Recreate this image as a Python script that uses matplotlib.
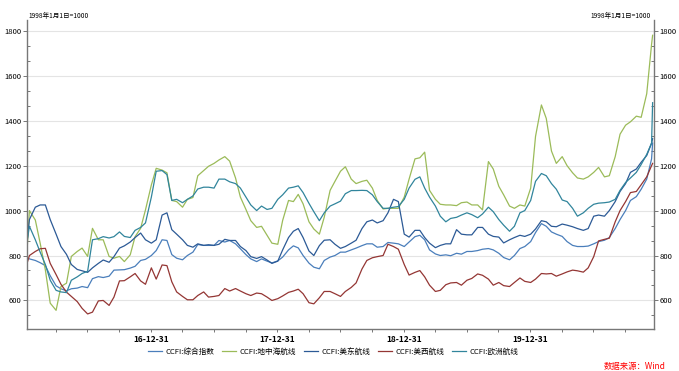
import numpy as np
import pandas as pd
import matplotlib
matplotlib.use("Agg")
import matplotlib.pyplot as plt
import matplotlib.dates as mdates
from matplotlib.ticker import MultipleLocator, FixedLocator

plt.rcParams["font.family"] = ["Noto Sans CJK SC", "DejaVu Sans"]

# semi-monthly readings, first and last points are the ends of the weekly series
dates = ([pd.Timestamp("2016-01-08")]
         + list(pd.date_range("2016-01-15", "2020-12-15", freq="SMS"))
         + [pd.Timestamp("2020-12-18")])

ccfi_total = [
    790, 785, 778, 768, 755, 710, 665, 652, 643, 652, 655, 662, 657, 697, 706, 702, 708, 735, 736, 737, 744, 752, 778, 783,
    800, 822, 870, 867, 804, 788, 781, 800, 815, 849, 845, 845, 845, 867, 860, 867, 852, 830, 804, 785, 773, 785, 775, 767,
    776, 793, 825, 843, 834, 800, 766, 748, 741, 778, 793, 800, 815, 815, 825, 833, 844, 852, 852, 837, 840, 858, 855, 852,
    840, 860, 884, 890, 870, 825, 807, 800, 803, 799, 810, 806, 818, 818, 822, 828, 831, 825, 810, 791, 781, 800, 831, 840,
    862, 902, 942, 930, 905, 895, 885, 862, 845, 840, 840, 842, 852, 862, 868, 880, 920, 960, 1000, 1045, 1062, 1095, 1140, 1230,
    1300,
]
ccfi_med = [
    820, 1000, 958, 855, 736, 588, 556, 662, 677, 796, 818, 833, 796, 921, 870, 870, 796, 788, 796, 773, 803, 884, 921, 1003,
    1114, 1188, 1180, 1168, 1045, 1040, 1015, 1050, 1058, 1155, 1178, 1197, 1210, 1225, 1240, 1220, 1145, 1060, 1005, 955, 925, 930, 890, 855,
    850, 956, 1045, 1040, 1072, 1030, 950, 918, 895, 970, 1090, 1130, 1175, 1195, 1140, 1120, 1130, 1135, 1100, 1045, 1007, 1010, 1010, 1010,
    1060, 1140, 1230, 1235, 1260, 1090, 1050, 1028, 1025, 1025, 1022, 1035, 1038, 1025, 1025, 1003, 1218, 1185, 1108, 1070, 1020, 1010, 1025, 1020,
    1100, 1330, 1470, 1410, 1265, 1210, 1240, 1200, 1168, 1145, 1140, 1150, 1170, 1192, 1150, 1155, 1240, 1340, 1380, 1395, 1420, 1415, 1520, 1740,
    1780,
]
ccfi_useast = [
    860, 960, 1015, 1025, 1025, 960, 895, 840, 805, 760, 738, 732, 725, 745, 765, 780, 770, 795, 833, 843, 860, 880, 900, 870,
    855, 870, 980, 990, 915, 895, 870, 845, 837, 852, 845, 848, 845, 850, 872, 867, 867, 840, 822, 795, 787, 795, 780, 765,
    775, 825, 880, 908, 920, 880, 820, 800, 844, 868, 870, 850, 832, 840, 855, 868, 920, 950, 958, 945, 955, 990, 1050, 1040,
    895, 882, 912, 912, 880, 855, 835, 845, 852, 852, 915, 895, 892, 892, 925, 925, 895, 885, 882, 856, 870, 880, 890, 885,
    895, 918, 955, 950, 930, 928, 940, 935, 928, 920, 912, 920, 975, 980, 975, 1000, 1040, 1085, 1120, 1170, 1185, 1215, 1245, 1300,
    1320,
]
ccfi_uswest = [
    765, 800, 818, 830, 832, 765, 715, 672, 637, 618, 595, 565, 540, 548, 598, 600, 578, 615, 687, 688, 705, 720, 687, 672,
    745, 695, 758, 755, 683, 638, 618, 603, 603, 622, 638, 615, 618, 622, 653, 642, 653, 642, 630, 622, 633, 630, 615, 600,
    608, 620, 636, 642, 650, 630, 590, 585, 612, 640, 640, 630, 618, 640, 658, 678, 740, 778, 790, 795, 800, 850, 840, 828,
    760, 713, 725, 733, 705, 668, 640, 645, 670, 678, 680, 668, 690, 698, 718, 712, 695, 668, 680, 666, 662, 680, 700, 685,
    680, 695, 720, 718, 720, 708, 718, 727, 735, 732, 726, 745, 795, 865, 872, 877, 950, 1000, 1040, 1080, 1085, 1115, 1150, 1200,
    1210,
]
ccfi_europe = [
    860, 930, 870, 815, 760, 690, 645, 638, 635, 690, 705, 720, 730, 870, 875, 884, 878, 884, 905, 885, 880, 912, 925, 945,
    1060, 1175, 1178, 1160, 1045, 1050, 1035, 1050, 1065, 1096, 1104, 1104, 1100, 1140, 1140, 1128, 1120, 1100, 1060, 1025, 1000, 1020, 1005, 1010,
    1050, 1070, 1100, 1104, 1110, 1080, 1032, 995, 955, 990, 1020, 1030, 1042, 1075, 1089, 1089, 1090, 1089, 1070, 1040, 1010, 1010, 1015, 1018,
    1050, 1100, 1139, 1150, 1100, 1060, 1020, 975, 950, 965, 970, 980, 990, 982, 968, 985, 1015, 995, 960, 935, 908, 930, 990, 1000,
    1045, 1130, 1165, 1155, 1120, 1095, 1047, 1040, 1010, 975, 990, 1010, 1028, 1033, 1035, 1038, 1050, 1090, 1125, 1145, 1170, 1205, 1250, 1300,
    1480,
]

series = [
    ("CCFI:综合指数", ccfi_total, "#4a7ebb"),
    ("CCFI:地中海航线", ccfi_med, "#9bbb59"),
    ("CCFI:美东航线", ccfi_useast, "#2c5a96"),
    ("CCFI:美西航线", ccfi_uswest, "#943634"),
    ("CCFI:欧洲航线", ccfi_europe, "#31859c"),
]

fig = plt.figure(figsize=(6.79, 3.71), dpi=100)
ax = fig.add_axes([27 / 679, 1 - 329 / 371, 627 / 679, 309 / 371])

for name, vals, col in series:
    ax.plot(dates, vals, color=col, linewidth=0.9, label=name)

ax.set_xlim(pd.Timestamp("2016-01-08"), pd.Timestamp("2020-12-22"))
ax.set_ylim(473, 1848)

# y axis: labels on both sides
ax.yaxis.set_major_locator(FixedLocator([600, 800, 1000, 1200, 1400, 1600, 1800]))
ax.yaxis.set_minor_locator(MultipleLocator(200 / 3))
ax.tick_params(axis="y", which="major", direction="out", length=3, width=0.6,
               labelsize=5.5, colors="#606060", labelcolor="black", pad=1,
               left=True, right=True, labelleft=True, labelright=True)
ax.tick_params(axis="y", which="minor", direction="in", length=2.5, width=0.6,
               colors="#606060", left=True, right=True)

# x axis: year-end labels, quarterly minor ticks
ax.xaxis.set_major_locator(FixedLocator(mdates.date2num(
    [pd.Timestamp(f"{y}-12-31") for y in (2016, 2017, 2018, 2019)])))
ax.xaxis.set_minor_locator(FixedLocator(mdates.date2num(
    list(pd.date_range("2016-03-31", "2020-12-01", freq="QE")))))
ax.xaxis.set_major_formatter(mdates.DateFormatter("%y-%m-%d"))
ax.tick_params(axis="x", which="both", direction="out", length=2.5, width=0.6,
               colors="#606060", labelcolor="black", labelsize=6, pad=2)
for lbl in ax.get_xticklabels():
    lbl.set_fontweight("bold")

ax.grid(axis="y", which="major", color="#e4e4e4", linewidth=0.8)
ax.set_axisbelow(True)
for side in ("left", "right", "bottom"):
    ax.spines[side].set_color("#777777")
    ax.spines[side].set_linewidth(1.0)
ax.spines["top"].set_visible(False)

fig.text(28 / 679, 1 - 18 / 371, "1998年1月1日=1000", fontsize=4.8, ha="left", va="baseline")
fig.text(651 / 679, 1 - 18 / 371, "1998年1月1日=1000", fontsize=4.8, ha="right", va="baseline")

fig.legend(loc="center", bbox_to_anchor=(333 / 679, 1 - 352 / 371), ncol=5,
           frameon=False, fontsize=5.5, handlelength=1.9, handletextpad=0.4,
           columnspacing=1.0)

fig.text(666 / 679, 1 - 366 / 371, "数据来源：Wind", color="#ff0000", fontsize=6,
         style="italic", ha="right", va="center")

fig.savefig("out.png", dpi=100)
plt.close(fig)
